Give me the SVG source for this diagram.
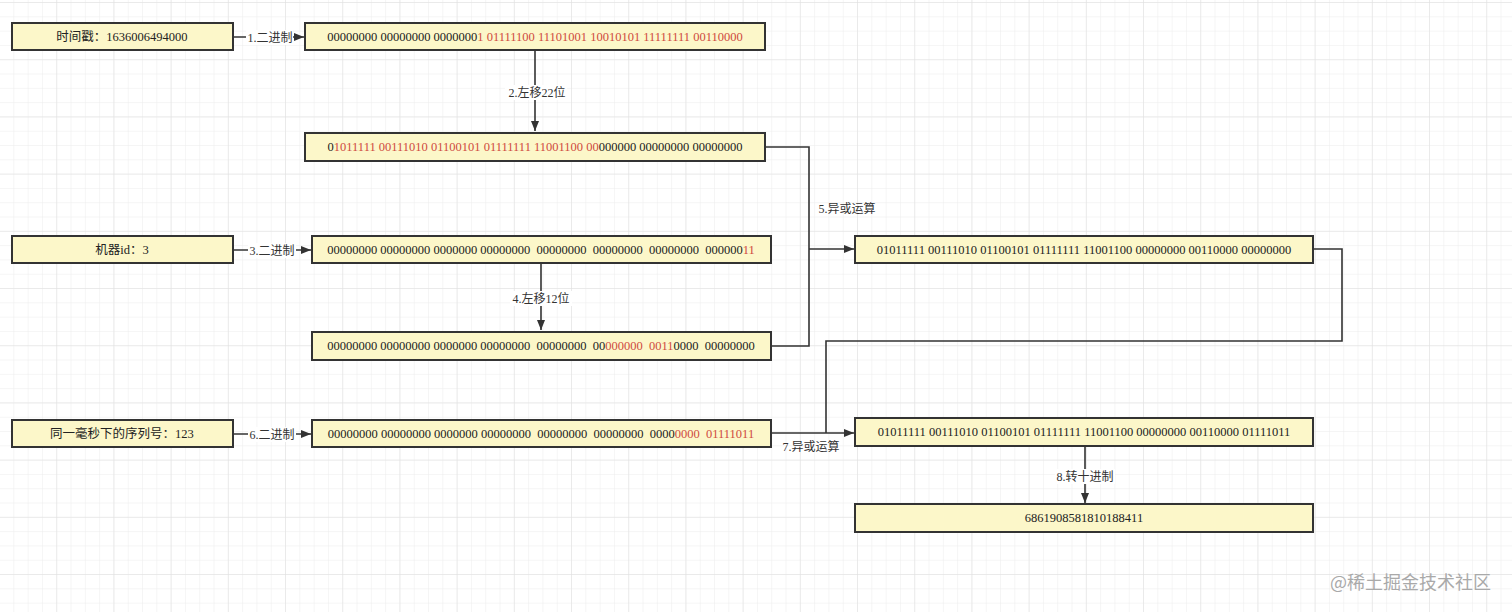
<svg xmlns="http://www.w3.org/2000/svg" width="1512" height="612" viewBox="0 0 1512 612">
<defs>
<pattern id="minor" width="14.3" height="14.3" patternUnits="userSpaceOnUse" x="0" y="3">
<path d="M14.3 0V14.3M0 14.3H14.3" fill="none" stroke="#ececec" stroke-width="1"/>
</pattern>
<pattern id="major" width="57.2" height="57.2" patternUnits="userSpaceOnUse" x="0" y="3">
<path d="M57.2 0V57.2M0 57.2H57.2" fill="none" stroke="#e0e0e0" stroke-width="1"/>
</pattern>
<marker id="arr" viewBox="0 0 10 10" refX="10" refY="5" markerWidth="10" markerHeight="10" markerUnits="userSpaceOnUse" orient="auto">
<path d="M0 1L10 5L0 9Z" fill="#333"/>
</marker>
<style>
.box{fill:#fcf7c9;stroke:#333;stroke-width:2}
.t{font-family:"Liberation Serif","Noto Sans CJK SC",serif;font-size:12.5px;fill:#222;text-anchor:middle;white-space:pre}
.r{fill:#cf4a40}
.lbl{font-family:"Liberation Serif","Noto Sans CJK SC",serif;font-size:12px;fill:#333;text-anchor:middle}
.lb{fill:#fff}
.c{fill:none;stroke:#333;stroke-width:1.6}
.wm{font-family:"Noto Sans CJK SC",sans-serif;font-size:18px;fill:#a9a9a9}
</style>
</defs>
<rect width="1512" height="612" fill="#fff"/>
<rect width="1512" height="612" fill="url(#minor)"/>
<rect width="1512" height="612" fill="url(#major)"/>

<g id="connectors">
<path class="c" d="M233 37H304" marker-end="url(#arr)"/>
<path class="c" d="M535 50V131" marker-end="url(#arr)"/>
<path class="c" d="M233 250H311" marker-end="url(#arr)"/>
<path class="c" d="M541 263V330" marker-end="url(#arr)"/>
<path class="c" d="M765 147H809V346H771"/>
<path class="c" d="M809 249H854" marker-end="url(#arr)"/>
<path class="c" d="M233 434H311" marker-end="url(#arr)"/>
<path class="c" d="M771 433H854" marker-end="url(#arr)"/>
<path class="c" d="M1313 249H1342V341H826V433"/>
<path class="c" d="M1085 446V503" marker-end="url(#arr)"/>
<rect class="lb" x="246" y="30" width="47" height="15"/>
<text class="lbl" x="270" y="42">1.二进制</text>
<rect class="lb" x="505" y="85" width="62" height="15"/>
<text class="lbl" x="537" y="97">2.左移22位</text>
<rect class="lb" x="248" y="243" width="48" height="15"/>
<text class="lbl" x="272" y="255">3.二进制</text>
<rect class="lb" x="510" y="291" width="62" height="15"/>
<text class="lbl" x="541" y="303">4.左移12位</text>
<text class="lbl" x="847" y="213">5.异或运算</text>
<rect class="lb" x="248" y="427" width="48" height="15"/>
<text class="lbl" x="272" y="439">6.二进制</text>
<text class="lbl" x="811" y="451">7.异或运算</text>
<rect class="lb" x="1055" y="469" width="60" height="15"/>
<text class="lbl" x="1085" y="481">8.转十进制</text>
</g>

<g id="n-timestamp"><rect class="box" x="12" y="23" width="221" height="27"/><text class="t" x="122" y="41">时间戳：1636006494000</text></g>
<g id="n-ts-bin"><rect class="box" x="305" y="23" width="460" height="27"/><text class="t" x="535" y="41">00000000 00000000 0000000<tspan class="r">1 01111100 11101001 10010101 11111111 00110000</tspan></text></g>
<g id="n-ts-shift"><rect class="box" x="305" y="133" width="460" height="28"/><text class="t" x="535" y="151">0<tspan class="r">1011111 00111010 01100101 01111111 11001100 00</tspan>000000 00000000 00000000</text></g>
<g id="n-machine"><rect class="box" x="12" y="236" width="221" height="27"/><text class="t" x="122" y="254">机器id：3</text></g>
<g id="n-m-bin"><rect class="box" x="312" y="236" width="459" height="27"/><text class="t" x="541" y="254">00000000 00000000 0000000 00000000  00000000  00000000  00000000  000000<tspan class="r">11</tspan></text></g>
<g id="n-m-shift"><rect class="box" x="312" y="332" width="459" height="28"/><text class="t" x="541" y="350">00000000 00000000 0000000 00000000  00000000  00<tspan class="r">000000  0011</tspan>0000  00000000</text></g>
<g id="n-xor1"><rect class="box" x="855" y="236" width="458" height="27"/><text class="t" x="1084" y="254">01011111 00111010 01100101 01111111 11001100 00000000 00110000 00000000</text></g>
<g id="n-seq"><rect class="box" x="12" y="420" width="221" height="27"/><text class="t" x="122" y="438">同一毫秒下的序列号：123</text></g>
<g id="n-seq-bin"><rect class="box" x="312" y="420" width="459" height="27"/><text class="t" x="541" y="438">00000000 00000000 0000000 00000000  00000000  00000000  0000<tspan class="r">0000  01111011</tspan></text></g>
<g id="n-xor2"><rect class="box" x="855" y="418" width="458" height="28"/><text class="t" x="1084" y="436">01011111 00111010 01100101 01111111 11001100 00000000 00110000 01111011</text></g>
<g id="n-dec"><rect class="box" x="855" y="504" width="458" height="28"/><text class="t" x="1084" y="522">6861908581810188411</text></g>

<text class="wm" x="1330" y="589">@稀土掘金技术社区</text>
</svg>
